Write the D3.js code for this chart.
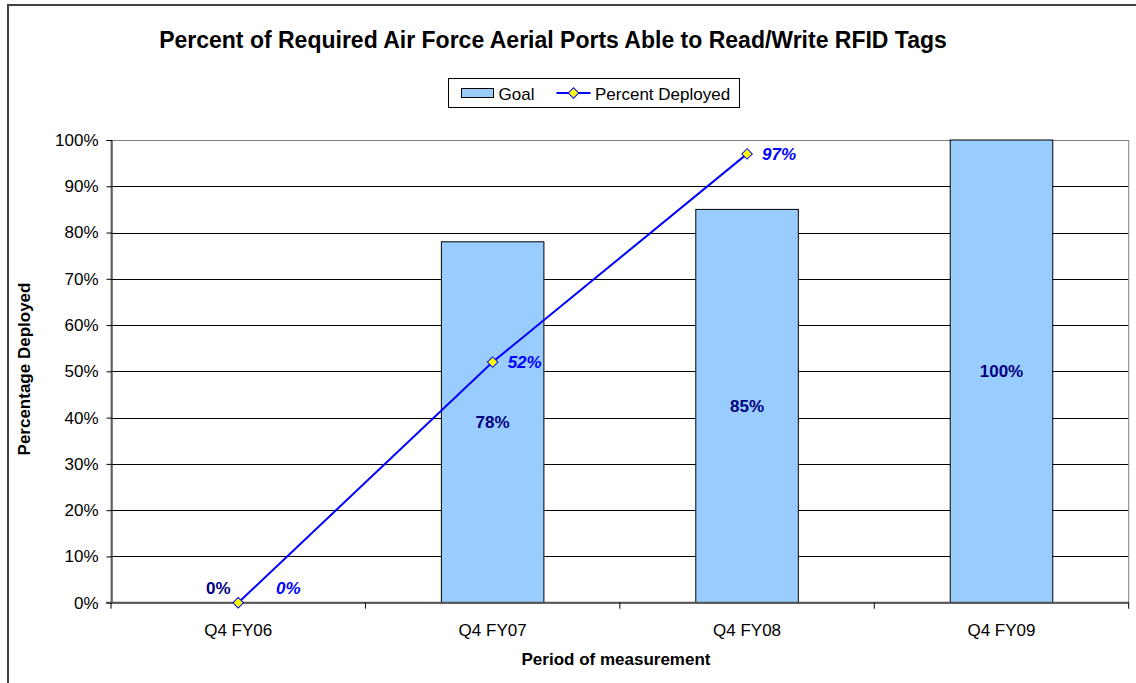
<!DOCTYPE html>
<html>
<head>
<meta charset="utf-8">
<script src="https://cdn.jsdelivr.net/npm/d3@7"></script>
<style>
  body { margin: 0; background: #fff; }
  svg { display: block; font-family: "Liberation Sans", Arial, sans-serif; }
</style>
</head>
<body>
<svg id="chart" width="1136" height="683"></svg>
<script>
// data
const categories = ["Q4 FY06", "Q4 FY07", "Q4 FY08", "Q4 FY09"];
const goal = [0, 78, 85, 100];
const deployed = [0, 52, 97];
const yTicks = [0, 10, 20, 30, 40, 50, 60, 70, 80, 90, 100];

const svg = d3.select("#chart");
const W = 1136, H = 683;
const margin = { left: 111, right: 7, top: 140, bottom: 80 };

// outer frame (only left and top edges are in view)
svg.append("rect")
    .attr("x", 8).attr("y", 5)
    .attr("width", W + 20).attr("height", H + 20)
    .attr("fill", "#fff")
    .attr("stroke", "#404040")
    .attr("stroke-width", 2);

const x = d3.scaleBand()
    .domain(categories)
    .range([margin.left, W - margin.right - 0.3]);

const y = d3.scaleLinear()
    .domain([0, 100])
    .range([602.7, margin.top]);

const x0 = x.range()[0], x1 = x.range()[1];

// gridlines
svg.append("g")
    .selectAll("line")
    .data(yTicks.filter(d => d > 0 && d < 100))
    .join("line")
    .attr("x1", x0).attr("x2", x1)
    .attr("y1", d => Math.round(y(d)) + 0.5)
    .attr("y2", d => Math.round(y(d)) + 0.5)
    .attr("stroke", "#000")
    .attr("stroke-width", 1);

// plot area border (gray)
svg.append("rect")
    .attr("x", x0).attr("y", Math.round(y(100)) + 0.5)
    .attr("width", x1 - x0)
    .attr("height", y(0) - y(100))
    .attr("fill", "none")
    .attr("stroke", "#808080")
    .attr("stroke-width", 1);

// bars
const barW = x.bandwidth() * 0.403;
svg.append("g")
    .selectAll("rect")
    .data(categories.map((c, i) => ({ c, v: goal[i] })).filter(d => d.v > 0))
    .join("rect")
    .attr("x", d => x(d.c) + (x.bandwidth() - barW) / 2)
    .attr("y", d => y(d.v))
    .attr("width", barW)
    .attr("height", d => y(0) - y(d.v))
    .attr("fill", "#99CCFF")
    .attr("stroke", "#000")
    .attr("stroke-width", 1);

// y axis
const yAxis = d3.axisLeft(y)
    .tickValues(yTicks)
    .tickSize(5)
    .tickPadding(8)
    .tickFormat(d => d + "%");
const gy = svg.append("g")
    .attr("transform", `translate(${x0 + 0.5},0)`)
    .call(yAxis);
gy.select(".domain").attr("stroke", "#000");
gy.selectAll(".tick line").attr("stroke", "#000");
gy.selectAll(".tick text")
    .attr("font-size", 17)
    .attr("font-family", "Liberation Sans, Arial, sans-serif")
    .attr("fill", "#000");

// x axis line and ticks at category boundaries
svg.append("line")
    .attr("x1", x0 - 5).attr("x2", x1)
    .attr("y1", y(0)).attr("y2", y(0))
    .attr("stroke", "#555")
    .attr("stroke-width", 2);
svg.append("g")
    .selectAll("line")
    .data(categories.concat(["end"]))
    .join("line")
    .attr("x1", (d, i) => i < categories.length ? x(d) : x1)
    .attr("x2", (d, i) => i < categories.length ? x(d) : x1)
    .attr("y1", y(0))
    .attr("y2", y(0) + 6)
    .attr("stroke", "#000")
    .attr("stroke-width", 1);
svg.append("g")
    .selectAll("text")
    .data(categories)
    .join("text")
    .attr("x", d => x(d) + x.bandwidth() / 2)
    .attr("y", 636)
    .attr("text-anchor", "middle")
    .attr("font-size", 17)
    .text(d => d);

// bar value labels
svg.append("g")
    .selectAll("text")
    .data(categories.map((c, i) => ({ c, v: goal[i] })))
    .join("text")
    .attr("x", d => x(d.c) + x.bandwidth() / 2 - (d.v === 0 ? 20 : 0))
    .attr("y", d => d.v === 0 ? y(0) - 9 : y(d.v / 2) + 6)
    .attr("text-anchor", "middle")
    .attr("font-size", 17)
    .attr("font-weight", "bold")
    .attr("fill", "#000080")
    .text(d => d.v + "%");

// deployed line
const pts = deployed.map((v, i) => ({ c: categories[i], v }));
const cx = d => x(d.c) + x.bandwidth() / 2;
svg.append("path")
    .datum(pts)
    .attr("d", d3.line().x(cx).y(d => y(d.v)))
    .attr("fill", "none")
    .attr("stroke", "#0000FF")
    .attr("stroke-width", 2);

const diamond = d3.symbol().type(d3.symbolSquare).size(55);
svg.append("g")
    .selectAll("path")
    .data(pts)
    .join("path")
    .attr("d", diamond)
    .attr("transform", d => `translate(${cx(d)},${y(d.v)}) rotate(45)`)
    .attr("fill", "#FFFF00")
    .attr("stroke", "#0000FF")
    .attr("stroke-width", 1);

// line value labels
const lineLabels = svg.append("g")
    .selectAll("g")
    .data(pts)
    .join("g")
    .attr("transform", d => d.v === 0
        ? `translate(${cx(d) + 50},${y(0) - 9})`
        : `translate(${cx(d) + 15},${y(d.v) + 6})`);
lineLabels.filter(d => d.v === 0)
    .append("rect")
    .attr("x", -18).attr("y", -16)
    .attr("width", 37).attr("height", 22)
    .attr("fill", "#fff");
lineLabels.append("text")
    .attr("text-anchor", d => d.v === 0 ? "middle" : "start")
    .attr("font-size", 17)
    .attr("font-weight", "bold")
    .attr("font-style", "italic")
    .attr("fill", "#0000FF")
    .text(d => d.v + "%");

// title
svg.append("text")
    .attr("x", 553).attr("y", 48)
    .attr("text-anchor", "middle")
    .attr("font-size", 23)
    .attr("font-weight", "bold")
    .text("Percent of Required Air Force Aerial Ports Able to Read/Write RFID Tags");

// axis titles
svg.append("text")
    .attr("x", 616).attr("y", 665)
    .attr("text-anchor", "middle")
    .attr("font-size", 17)
    .attr("font-weight", "bold")
    .text("Period of measurement");
svg.append("text")
    .attr("transform", "translate(30,369) rotate(-90)")
    .attr("text-anchor", "middle")
    .attr("font-size", 17)
    .attr("font-weight", "bold")
    .text("Percentage Deployed");

// legend
const lg = svg.append("g").attr("transform", "translate(448.5,78.5)");
lg.append("rect")
    .attr("width", 291).attr("height", 29)
    .attr("fill", "#fff")
    .attr("stroke", "#000")
    .attr("stroke-width", 1);
lg.append("rect")
    .attr("x", 13).attr("y", 10)
    .attr("width", 32).attr("height", 9)
    .attr("fill", "#99CCFF")
    .attr("stroke", "#000");
lg.append("text")
    .attr("x", 50).attr("y", 21)
    .attr("font-size", 17)
    .text("Goal");
lg.append("line")
    .attr("x1", 108).attr("x2", 142)
    .attr("y1", 14.5).attr("y2", 14.5)
    .attr("stroke", "#0000FF")
    .attr("stroke-width", 2);
lg.append("path")
    .attr("d", diamond)
    .attr("transform", "translate(125,14.5) rotate(45)")
    .attr("fill", "#FFFF00")
    .attr("stroke", "#0000FF");
lg.append("text")
    .attr("x", 146.5).attr("y", 21)
    .attr("font-size", 17)
    .text("Percent Deployed");
</script>
</body>
</html>
